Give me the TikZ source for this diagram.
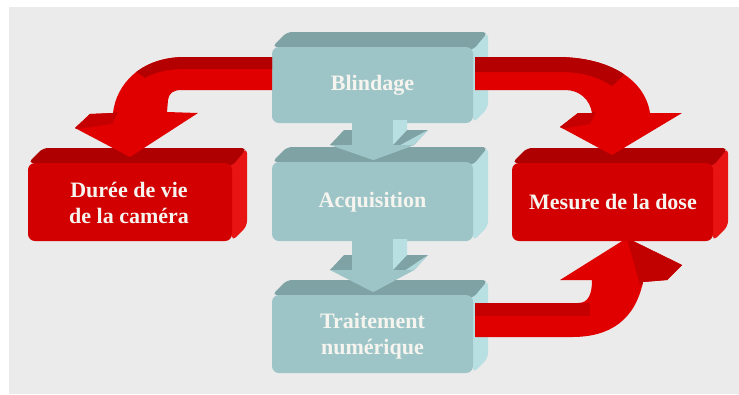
\documentclass[tikz,border=0pt]{standalone}
\usepackage{fontspec}
\setmainfont{Liberation Serif}
\definecolor{bgc}{HTML}{EBEBEB}
\definecolor{cyF}{HTML}{9DC5C8}
\definecolor{cyT}{HTML}{7FA3A5}
\definecolor{cyS}{HTML}{B8E0E2}
\definecolor{rdF}{HTML}{D20000}
\definecolor{rdT}{HTML}{AE0000}
\definecolor{rdS}{HTML}{E81414}
\definecolor{arF}{HTML}{E00000}
\definecolor{arD}{HTML}{B40000}
\definecolor{txt}{HTML}{F6F4EE}
\newcommand\slabbox[5]{%
  \fill[#5S, rounded corners=5] (#3-3,#2) -- (#3+15,#2-15) -- (#3+15,#4-15) -- (#3,#4) -- cycle;
  \fill[#5T, rounded corners=5] (#1,#2) -- (#1+15,#2-15) -- (#3+15,#2-15) -- (#3,#2+3) -- cycle;
  \fill[#5F, rounded corners=7] (#1,#2) rectangle (#3,#4);
}
\newcommand\downarr[4]{% ytop, flange top, flange bottom, tip
  \fill[cyT] (330,#3) -- (344,#2) -- (428,#2) -- (414,#3) -- cycle;
  \fill[cyS] (393,#1) -- (407,#1) -- (407,#2) -- (393,#3) -- cycle;
  \fill[cyF] (352,#1) rectangle (393,#3);
  \fill[cyS!70!cyF] (414,#3) -- (428,#2) -- (373,#4) -- cycle;
  \fill[cyF] (330,#3) -- (414,#3) -- (373,#4) -- cycle;
}
\tikzset{lbl/.style={font=\fontsize{22bp}{26bp}\selectfont\bfseries, text=txt, align=center, inner sep=0pt}}
\begin{document}
\begin{tikzpicture}[x=1bp,y=-1bp]
\useasboundingbox (0,0) rectangle (739,394);
\fill[white] (0,0) rectangle (739,394);
\fill[bgc] (9,7) rectangle (739,394);
% teal boxes
\slabbox{272}{47}{473}{123}{cy}
\slabbox{272}{162}{473}{241}{cy}
\slabbox{272}{295}{473}{373}{cy}
\downarr{120}{130}{145}{160}
\downarr{239}{255}{270}{292}
% red boxes
\slabbox{28}{163}{232}{241}{rd}
% bottom-right arrow (behind Mesure box)
\begin{scope}
\clip (475,303) -- (578,303) .. controls (588,303) and (592,295) .. (592,280) -- (560,280) -- (627,238) -- (682,265) -- (667,280) -- (643,282) .. controls (635,320) and (610,337) .. (572,337) -- (475,337) -- cycle;
\fill[arF] (460,220) rectangle (700,350);
\fill[arD!60!arF] (460,303) rectangle (590,316);
\fill[arD!70!arF] (627,238) -- (690,265) -- (667,285) -- (640,285) -- cycle;
\end{scope}
\slabbox{512}{163}{713}{241}{rd}
% top-left arrow
\begin{scope}
\clip (272,57) -- (185,57) .. controls (140,57) and (116,85) .. (113,113) -- (90,114) -- (75,128) -- (130,157) -- (198,113) -- (167,112) -- (168,100) .. controls (169,93) and (173,90) .. (182,90) -- (272,90) -- cycle;
\fill[arF] (60,40) rectangle (280,170);
\fill[arD] (280,69) -- (185,69) .. controls (168,69) and (155,72) .. (145,78) -- (120,60) -- (120,40) -- (280,40) -- cycle;
\fill[arD!60!arF] (70,130) -- (90,112) -- (118,112) -- (112,124) -- cycle;
\end{scope}
% top-right arrow
\begin{scope}
\clip (475,57) -- (557,57) .. controls (610,57) and (645,80) .. (650,113) -- (682,113) -- (612,155) -- (560,127) -- (578,113) -- (592,113) .. controls (590,100) and (580,90) .. (565,90) -- (475,90) -- cycle;
\fill[arF] (460,40) rectangle (700,170);
\fill[arD] (470,72) -- (560,72) .. controls (585,72) and (600,78) .. (612,86) -- (640,60) -- (600,40) -- (470,40) -- cycle;
\fill[arD!60!arF] (555,130) -- (578,112) -- (596,112) -- (590,124) -- cycle;
\end{scope}
% labels
\node[lbl] (bl) at (372.5,85) {Blindage};
\node[lbl] (ac) at (372.5,202) {Acquisition};
\node[lbl] (tr) at (372.5,336) {Traitement\\numérique};
\node[lbl] (du) at (129,203) {Durée de vie\\de la caméra};
\node[lbl] (me) at (613,202) {Mesure de la dose};
\end{tikzpicture}
\end{document}
